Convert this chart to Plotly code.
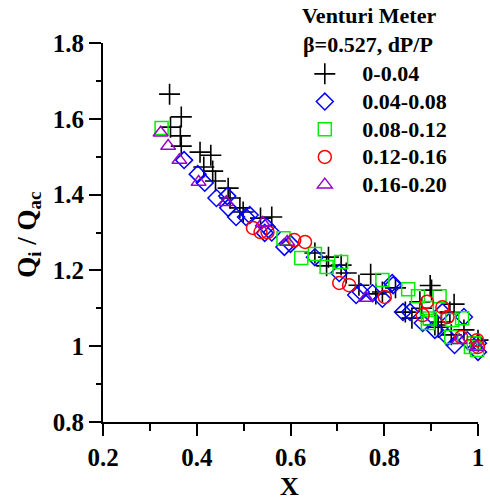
import plotly.graph_objects as go

# ---------------- data ----------------
names = ["0-0.04", "0.04-0.08", "0.08-0.12", "0.12-0.16", "0.16-0.20"]

x_plus = [0.342, 0.367, 0.344, 0.365, 0.367, 0.407, 0.430, 0.415, 0.434, 0.440,
          0.467, 0.471, 0.492, 0.499, 0.536, 0.560, 0.652, 0.681, 0.677, 0.708,
          0.719, 0.771, 0.746, 0.782, 0.796, 0.824, 0.901, 0.876, 0.949, 0.859,
          0.908, 0.943, 0.845, 0.922, 0.970, 1.000, 0.898, 0.940, 0.880, 0.915]
y_plus = [1.665, 1.605, 1.578, 1.555, 1.528, 1.512, 1.504, 1.473, 1.462, 1.436,
          1.417, 1.391, 1.365, 1.354, 1.338, 1.341, 1.246, 1.235, 1.212, 1.214,
          1.193, 1.190, 1.161, 1.138, 1.143, 1.154, 1.148, 1.117, 1.111, 1.074,
          1.056, 1.030, 1.090, 1.064, 1.043, 1.016, 1.160, 1.090, 1.100, 1.050]

x_dia = [0.373, 0.402, 0.417, 0.442, 0.465, 0.467, 0.484, 0.505, 0.513, 0.549,
         0.545, 0.587, 0.652, 0.704, 0.740, 0.750, 0.775, 0.796, 0.819, 0.840,
         0.817, 0.855, 0.882, 0.924, 0.935, 0.970, 0.977, 1.000, 1.000, 0.950,
         0.908, 0.600, 0.560]
y_dia = [1.491, 1.454, 1.431, 1.391, 1.396, 1.365, 1.341, 1.341, 1.346, 1.315,
         1.299, 1.262, 1.235, 1.193, 1.135, 1.143, 1.140, 1.125, 1.161, 1.090,
         1.167, 1.090, 1.061, 1.090, 1.024, 1.077, 1.016, 1.008, 0.985, 1.003,
         1.043, 1.270, 1.300]

x_sq = [0.325, 0.585, 0.623, 0.652, 0.677, 0.708, 0.796, 0.851, 0.872, 0.918,
        0.891, 0.897, 0.945, 0.966, 0.943, 0.991, 0.998, 0.893, 0.985]
y_sq = [1.576, 1.285, 1.233, 1.243, 1.209, 1.222, 1.175, 1.150, 1.132, 1.132,
        1.101, 1.073, 1.069, 1.074, 1.024, 1.008, 0.990, 1.061, 0.998]

x_cir = [0.520, 0.536, 0.551, 0.608, 0.631, 0.704, 0.725, 0.801, 0.891, 0.882,
         0.924, 0.935, 0.964, 0.998, 1.000]
y_cir = [1.312, 1.301, 1.301, 1.280, 1.275, 1.167, 1.161, 1.130, 1.117, 1.082,
         1.103, 1.077, 1.024, 1.016, 0.998]

x_tri = [0.323, 0.339, 0.363, 0.404, 0.463, 0.541, 0.593, 0.761, 0.960, 0.998]
y_tri = [1.563, 1.528, 1.491, 1.433, 1.380, 1.325, 1.275, 1.127, 1.016, 0.998]

x_ticks = [0.2, 0.4, 0.6, 0.8, 1.0]
x_tick_labels = ["0.2", "0.4", "0.6", "0.8", "1"]
y_ticks = [0.8, 1.0, 1.2, 1.4, 1.6, 1.8]
y_tick_labels = ["0.8", "1", "1.2", "1.4", "1.6", "1.8"]

# ---------------- styles ----------------
FONT = "Liberation Serif, Times New Roman, serif"
series = [
    (x_plus, y_plus, "cross-thin-open", "black", 15, 1.6),
    (x_dia, y_dia, "diamond-open", "#0000ff", 13, 1.5),
    (x_sq, y_sq, "square-open", "#00ee00", 13, 1.5),
    (x_cir, y_cir, "circle-open", "#ff0000", 13, 1.5),
    (x_tri, y_tri, "triangle-up-open", "#9900cc", 13, 1.5),
]

fig = go.Figure()
for i, (xs, ys, sym, col, sz, lw) in enumerate(series):
    fig.add_trace(go.Scatter(
        x=xs, y=ys, mode="markers",
        name='<span style="font-size:22px"><b>' + names[i] + "</b></span>",
        legendgroup=f"g{i}",
        cliponaxis=False,
        marker=dict(symbol=sym, size=sz, color=col, line=dict(color=col, width=lw)),
    ))

W0, W1 = 102.5, 484.0
H0, H1 = 43.0, 422.0

axis_common = dict(
    showline=True, linecolor="black", linewidth=2, mirror=False,
    ticks="outside", ticklen=12, tickwidth=2, tickcolor="black",
    showgrid=False, zeroline=False, ticklabeloverflow="allow",
    tickfont=dict(family=FONT, size=25, color="black"),
)

fig.update_layout(
    width=490, height=499,
    margin=dict(l=W0, r=490 - W1, t=H0, b=499 - H1, pad=0),
    paper_bgcolor="white", plot_bgcolor="white",
    font=dict(family=FONT, color="black"),
    xaxis=dict(range=[0.2, 1.0], tickvals=x_ticks,
               ticktext=["<b>" + t + "</b>" for t in x_tick_labels],
               minor=dict(dtick=0.1, tick0=0.2, ticklen=7, tickwidth=2,
                          tickcolor="black", ticks="outside"),
               **axis_common),
    yaxis=dict(range=[0.8, 1.8], tickvals=y_ticks,
               ticktext=["<b>" + t + "</b>" for t in y_tick_labels],
               minor=dict(dtick=0.1, tick0=0.8, ticklen=5, tickwidth=2,
                          tickcolor="black", ticks="outside"),
               **axis_common),
    legend=dict(
        x=(290 - W0) / (W1 - W0), y=(H1 - 55) / (H1 - H0),
        xanchor="left", yanchor="top",
        font=dict(family=FONT, size=19, color="black"),
        bgcolor="rgba(0,0,0,0)", borderwidth=0,
        itemwidth=65, tracegroupgap=0,
    ),
    showlegend=True,
)

def px2paper(px, py):
    return (px - W0) / (W1 - W0), (H1 - py) / (H1 - H0)

ax, ay = px2paper(373, 16)
fig.add_annotation(x=ax, y=ay, xref="paper", yref="paper", showarrow=False,
                   text="<b>Venturi Meter</b>", xanchor="center", yanchor="middle",
                   font=dict(family=FONT, size=22, color="black"))
ax, ay = px2paper(372, 45)
fig.add_annotation(x=ax, y=ay, xref="paper", yref="paper", showarrow=False,
                   text="<b>β=0.527, dP/P</b>", xanchor="center", yanchor="middle",
                   font=dict(family=FONT, size=22, color="black"))
ax, ay = px2paper(292, 486)
fig.add_annotation(x=ax, y=ay, xref="paper", yref="paper", showarrow=False,
                   text="<b>X</b>", xanchor="center", yanchor="middle",
                   font=dict(family=FONT, size=26, color="black"))
ax, ay = px2paper(27, 235)
fig.add_annotation(x=ax, y=ay, xref="paper", yref="paper", showarrow=False,
                   text="<b>Q<sub>i</sub> / Q<sub>ac</sub></b>", textangle=-90,
                   xanchor="center", yanchor="middle",
                   font=dict(family=FONT, size=27, color="black"))

fig.write_html("out.html")
